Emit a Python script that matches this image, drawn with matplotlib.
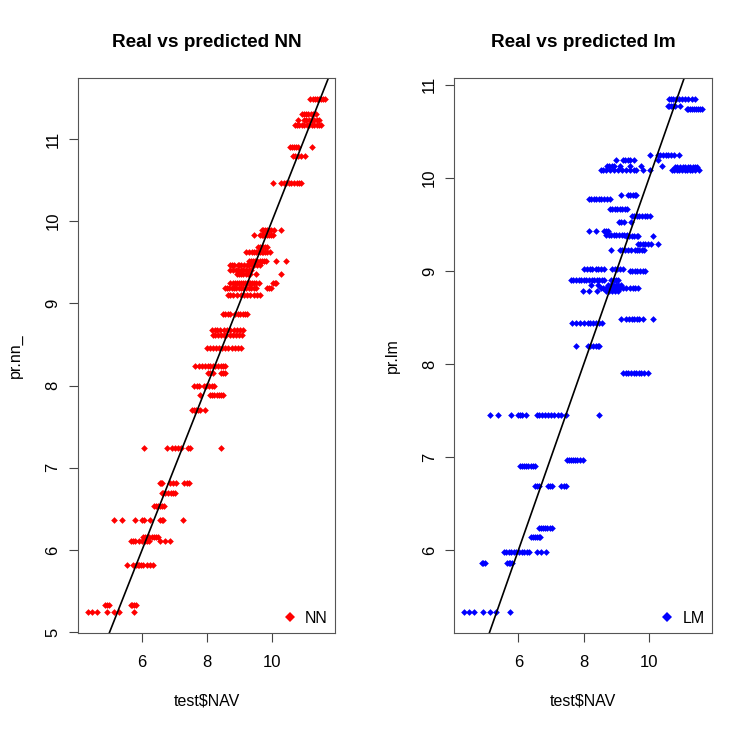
"""Real vs predicted: NN and lm predictions against test$NAV."""

import matplotlib
matplotlib.use("Agg")
import matplotlib.pyplot as plt
from matplotlib.ticker import MultipleLocator

plt.rcParams["font.family"] = ["Liberation Sans", "DejaVu Sans"]

# predicted levels (y) and the test$NAV values (x) that sit on each level
nn_levels = [11.49, 11.30, 11.23, 11.17, 10.90, 10.79, 10.46, 9.89, 9.83, 9.69,
             9.63, 9.51, 9.47, 9.40, 9.36, 9.25, 9.19, 9.10, 8.87, 8.67,
             8.61, 8.46, 8.24, 8.15, 8.00, 7.89, 7.70, 7.24, 6.82, 6.69,
             6.54, 6.37, 6.16, 6.11, 5.82, 5.33, 5.24]
nn_x = [
    [11.18, 11.25, 11.32, 11.38, 11.45, 11.52, 11.58, 11.65],
    [10.92, 10.98, 11.05, 11.12, 11.20, 11.28, 11.36],
    [10.80, 11.00, 11.06, 11.14, 11.22, 11.30, 11.38, 11.44],
    [10.70, 10.76, 10.84, 10.92, 11.00, 11.08, 11.15, 11.22, 11.30, 11.38, 11.46, 11.52],
    [10.56, 10.62, 10.68, 10.74, 10.79, 11.23],
    [10.64, 10.72, 10.80, 10.90, 11.02],
    [10.03, 10.29, 10.36, 10.44, 10.52, 10.60, 10.68, 10.76, 10.84, 10.90],
    [9.68, 9.74, 9.80, 9.86, 9.92, 9.98, 10.05, 10.27],
    [9.46, 9.62, 9.68, 9.74, 9.80, 9.86, 9.92, 9.98, 10.04],
    [9.57, 9.62, 9.68, 9.73, 9.79, 9.85],
    [9.21, 9.30, 9.38, 9.44, 9.50, 9.56, 9.62, 9.68, 9.74, 9.80, 9.86, 9.93],
    [9.30, 9.36, 9.42, 9.48, 9.55, 9.62, 9.68, 9.75, 9.81, 10.14, 10.43],
    [8.72, 8.78, 8.84, 8.94, 9.00, 9.06, 9.14, 9.22, 9.30, 9.38, 9.46, 9.54, 9.62],
    [8.72, 8.80, 8.88, 8.96, 9.04, 9.12, 9.20, 9.28, 9.36],
    [8.91, 8.98, 9.05, 9.12, 9.20, 9.27, 9.34, 9.50, 10.29],
    [8.72, 8.80, 8.86, 8.92, 8.98, 9.04, 9.10, 9.16, 9.22, 9.28, 9.34, 9.40, 9.46,
     9.52, 9.60, 10.02, 10.08, 10.14],
    [8.55, 8.62, 8.68, 8.76, 8.84, 8.90, 8.98, 9.05, 9.12, 9.20, 9.28, 9.36, 9.44,
     9.52, 9.84, 9.91, 9.98],
    [8.64, 8.72, 8.80, 8.92, 9.04, 9.14, 9.24, 9.34, 9.44, 9.54, 9.64],
    [8.48, 8.56, 8.64, 8.70, 8.85, 8.94, 9.02, 9.10, 9.18, 9.22],
    [8.16, 8.24, 8.32, 8.40, 8.52, 8.62, 8.72, 8.82, 8.92, 9.02, 9.12],
    [8.18, 8.26, 8.34, 8.44, 8.52, 8.60, 8.70, 8.80, 8.90, 9.00, 9.08],
    [8.00, 8.10, 8.20, 8.28, 8.36, 8.46, 8.56, 8.66, 8.76, 8.86, 8.96, 9.06],
    [7.64, 7.75, 7.86, 7.95, 8.02, 8.10, 8.18, 8.26, 8.34, 8.42, 8.50, 8.57],
    [8.03, 8.10, 8.18, 8.42, 8.50, 8.57],
    [7.61, 7.68, 7.76, 7.90, 7.98, 8.06, 8.14, 8.21],
    [7.77, 8.08, 8.14, 8.22, 8.30, 8.38, 8.44, 8.49],
    [7.54, 7.60, 7.66, 7.72, 7.80, 7.95],
    [6.07, 6.76, 6.92, 7.02, 7.12, 7.20, 7.40, 7.48, 8.44],
    [6.54, 6.58, 6.61, 6.87, 6.95, 7.05, 7.30, 7.38, 7.46],
    [6.61, 6.66, 6.72, 6.80, 6.88, 6.95, 7.02],
    [6.38, 6.44, 6.50, 6.56, 6.62, 6.69],
    [5.13, 5.38, 5.77, 5.99, 6.06, 6.25, 6.54, 6.60, 6.66, 7.26],
    [6.04, 6.10, 6.16, 6.22, 6.30, 6.38, 6.44, 6.50],
    [5.66, 5.72, 5.78, 5.90, 6.00, 6.08, 6.14, 6.20, 6.56, 6.70, 6.85],
    [5.55, 5.73, 5.80, 5.86, 5.92, 5.98, 6.04, 6.14, 6.25, 6.35],
    [4.86, 4.92, 4.99, 5.65, 5.70, 5.75, 5.81],
    [4.32, 4.46, 4.62, 4.91, 5.13, 5.30, 5.75],
]

lm_levels = [10.85, 10.77, 10.74, 10.24, 10.19, 10.13, 10.12, 10.08, 9.81, 9.77,
             9.66, 9.59, 9.52, 9.43, 9.39, 9.37, 9.29, 9.22, 9.02, 9.00,
             8.90, 8.85, 8.82, 8.78, 8.48, 8.44, 8.19, 7.90, 7.45, 6.97,
             6.90, 6.69, 6.24, 6.14, 5.98, 5.86, 5.33]
lm_x = [
    [10.62, 10.68, 10.74, 10.82, 10.90, 11.00, 11.10, 11.20, 11.30, 11.41],
    [10.56, 10.62, 10.68, 10.74, 10.80, 10.93],
    [11.15, 11.20, 11.26, 11.32, 11.38, 11.44, 11.50, 11.56, 11.62],
    [10.03, 10.26, 10.34, 10.42, 10.50, 10.58, 10.66, 10.76, 10.90],
    [8.99, 9.20, 9.27, 9.34, 9.42, 9.54, 10.28],
    [8.72, 8.78, 8.85, 8.92, 9.12, 9.41, 9.74, 10.40],
    [10.79, 10.86, 10.94, 11.02, 11.10, 11.18, 11.26, 11.34, 11.40, 11.46],
    [8.53, 8.60, 8.68, 8.80, 8.92, 9.04, 9.16, 9.28, 9.40, 9.52, 9.61, 9.82, 10.02,
     10.69, 10.76, 10.84, 10.92, 11.00, 11.08, 11.16, 11.24, 11.32, 11.40, 11.52],
    [9.15, 9.35, 9.42, 9.50, 9.56, 9.61],
    [8.15, 8.22, 8.30, 8.38, 8.46, 8.54, 8.62, 8.70, 8.79],
    [8.79, 8.86, 8.94, 9.02, 9.10, 9.18, 9.26, 9.33],
    [9.46, 9.54, 9.62, 9.70, 9.78, 9.86, 9.94, 10.02],
    [9.08, 9.15, 9.23, 9.44],
    [8.15, 8.38, 8.63, 8.68, 8.74],
    [8.69, 8.76, 8.84, 8.92, 9.00, 9.08, 9.16, 9.24, 9.31],
    [9.30, 9.38, 9.46, 9.54, 9.62, 9.66, 10.13],
    [9.66, 9.72, 9.80, 9.88, 9.96, 10.07, 10.28],
    [8.84, 9.10, 9.18, 9.26, 9.34, 9.44, 9.56, 9.62, 9.70, 9.78, 9.85],
    [8.02, 8.10, 8.18, 8.26, 8.36, 8.44, 8.53, 8.63, 8.86, 8.94, 9.02, 9.10, 9.20],
    [9.40, 9.48, 9.56, 9.64, 9.72, 9.80, 9.87],
    [7.60, 7.68, 7.76, 7.84, 7.92, 8.00, 8.08, 8.16, 8.24, 8.32, 8.40, 8.48, 8.56,
     8.61, 8.84, 8.92, 9.00, 9.05],
    [8.22, 8.43, 8.74, 8.82, 8.90, 8.98, 9.06, 9.15],
    [8.53, 8.60, 8.68, 8.76, 8.84, 8.92, 9.00, 9.10, 9.20, 9.30, 9.40, 9.50, 9.58, 9.66],
    [7.97, 8.17, 8.40, 8.69, 8.78, 8.86, 8.94, 9.05],
    [9.15, 9.30, 9.38, 9.46, 9.54, 9.62, 9.70, 9.82, 10.13],
    [7.64, 7.76, 7.88, 8.00, 8.12, 8.20, 8.28, 8.36, 8.46, 8.55],
    [7.76, 8.12, 8.20, 8.28, 8.36, 8.42, 8.48],
    [9.20, 9.28, 9.36, 9.44, 9.52, 9.60, 9.68, 9.76, 9.84, 9.95],
    [5.14, 5.39, 5.77, 5.98, 6.05, 6.12, 6.22, 6.58, 6.64, 6.72, 6.80, 6.90, 7.00,
     7.10, 7.20, 7.30, 7.45, 8.45],
    [7.50, 7.56, 7.62, 7.68, 7.74, 7.80, 7.88, 7.97],
    [6.04, 6.10, 6.16, 6.22, 6.30, 6.38, 6.45, 6.52],
    [6.50, 6.56, 6.63, 6.89, 6.96, 7.04, 7.30, 7.38, 7.45],
    [6.63, 6.68, 6.74, 6.80, 6.88, 6.96, 7.04],
    [6.39, 6.45, 6.51, 6.57, 6.62, 6.66],
    [5.55, 5.62, 5.70, 5.78, 5.86, 5.94, 6.02, 6.10, 6.18, 6.26, 6.32, 6.58, 6.70, 6.83],
    [4.88, 4.93, 4.98, 5.65, 5.70, 5.75, 5.81],
    [4.33, 4.50, 4.64, 4.91, 5.14, 5.32, 5.75],
]


def flatten(levels, xs):
    """Turn level/x lists into flat x and y lists."""
    px, py = [], []
    for lev, row in zip(levels, xs):
        px.extend(row)
        py.extend([lev] * len(row))
    return px, py


def r_lim(vals):
    # R style axis range: data range padded by 4% on each side
    lo, hi = min(vals), max(vals)
    d = (hi - lo) * 0.04
    return lo - d, hi + d


def draw_panel(ax, levels, xs, color, title, ylabel, label):
    x, y = flatten(levels, xs)
    ax.plot(x, y, "D", color=color, ms=3.4, mew=0, label=label)
    ax.set_xlim(*r_lim(x))
    ax.set_ylim(*r_lim(y))
    ax.set_autoscale_on(False)
    ax.axline((0, 0), slope=1, color="black", lw=1.2)
    ax.set_title(title, fontsize=13.7, fontweight="bold", pad=22)
    ax.set_xlabel("test$NAV", fontsize=11.5, labelpad=17)
    ax.set_ylabel(ylabel, fontsize=11.5, labelpad=16)
    ax.xaxis.set_major_locator(MultipleLocator(2))
    ax.yaxis.set_major_locator(MultipleLocator(1))
    ax.tick_params(length=6.5, width=0.8, color="#444444", labelsize=12)
    ax.tick_params(axis="x", pad=9)
    ax.tick_params(axis="y", pad=6)
    for lab in ax.get_yticklabels():
        lab.set_rotation(90)
        lab.set_va("center")
    for sp in ax.spines.values():
        sp.set_color("#555555")
        sp.set_linewidth(0.8)
    ax.legend(loc="lower right", frameon=False, fontsize=11.5, handlelength=0.8,
              handletextpad=0.55, markerscale=1.4, borderaxespad=0.05)


fig = plt.figure(figsize=(7.52, 7.32), dpi=100)
ax1 = fig.add_axes([0.1037, 0.1352, 0.3418, 0.7582])
ax2 = fig.add_axes([0.6041, 0.1352, 0.3423, 0.7582])

draw_panel(ax1, nn_levels, nn_x, "#FF0000", "Real vs predicted NN", "pr.nn_", "NN")
draw_panel(ax2, lm_levels, lm_x, "#0000FF", "Real vs predicted lm", "pr.lm", "LM")

fig.savefig("out.png", dpi=100)
